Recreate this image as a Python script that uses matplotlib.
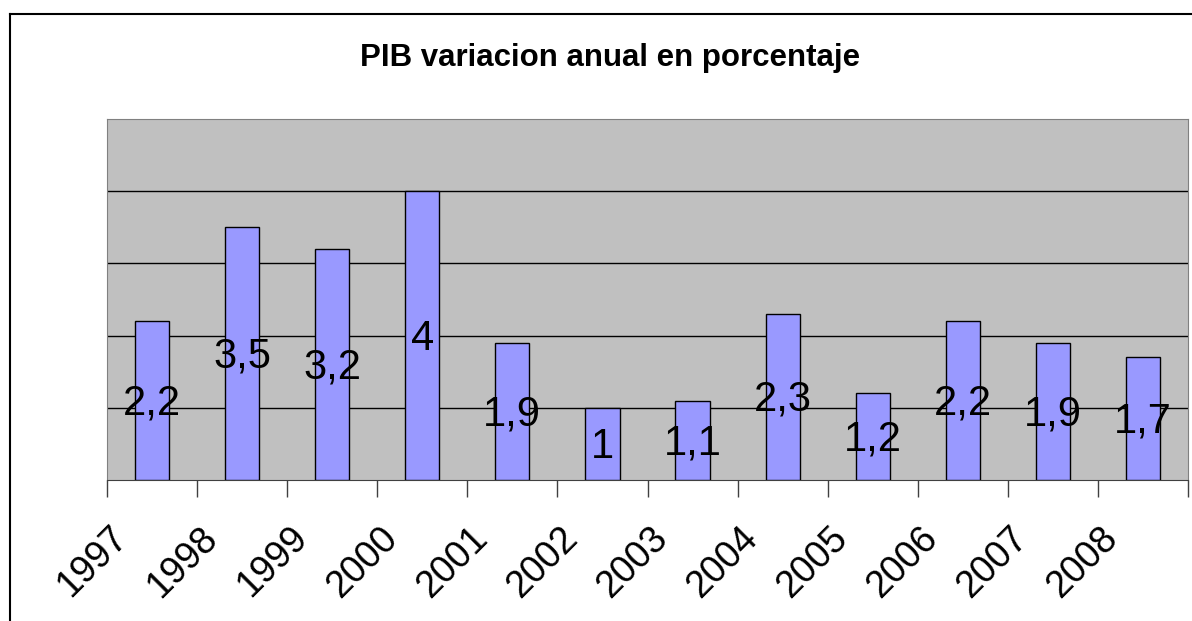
import numpy as np
import matplotlib.pyplot as plt
from matplotlib.lines import Line2D
from matplotlib.transforms import offset_copy

plt.rcParams['font.family'] = ['Liberation Sans', 'DejaVu Sans']

years = ['1997', '1998', '1999', '2000', '2001', '2002',
         '2003', '2004', '2005', '2006', '2007', '2008']
pib = [2.2, 3.5, 3.2, 4, 1.9, 1, 1.1, 2.3, 1.2, 2.2, 1.9, 1.7]
labels = [str(v).replace('.', ',') for v in pib]

fig = plt.figure(figsize=(11.92, 6.21), dpi=100)
ax = fig.add_axes([107/1192, 1 - 480/621, 1081/1192, 361/621])

x = np.arange(len(years))
ax.set_facecolor('#C0C0C0')
ax.bar(x, pib, width=0.38, color='#9999FF', edgecolor='black', linewidth=1, zorder=3)
lab_trans = offset_copy(ax.transData, fig=fig, x=0, y=-3, units='dots')
for xi, v, lab in zip(x, pib, labels):
    ax.text(xi, v / 2, lab, transform=lab_trans, ha='center', va='center',
            fontsize=30, zorder=4)

ax.set_xlim(-0.5, len(years) - 0.5)
ax.set_ylim(0, 5)
ax.set_yticks([])
for g in [1, 2, 3, 4]:
    ax.axhline(g, color='black', lw=1, zorder=2)

ax.set_xticks(np.arange(-0.5, len(years), 1))
ax.set_xticklabels([])
ax.tick_params(axis='x', length=12, width=1, color='#404040', direction='out')

# year labels, rotated like the spreadsheet original
trans = offset_copy(ax.get_xaxis_transform(), fig=fig, x=-60, y=-82, units='dots')
for xi, yr in zip(x, years):
    ax.text(xi, 0, yr, transform=trans, rotation=45, rotation_mode='anchor',
            ha='center', va='center', fontsize=27, clip_on=False)

for s in ['top', 'right', 'left']:
    ax.spines[s].set_color('#808080')
ax.spines['bottom'].set_color('#404040')

fig.text(610/1192, 1 - 58/621, 'PIB variacion anual en porcentaje',
         ha='center', va='center', fontsize=22.5, fontweight='bold')

# outer chart border (right and bottom edges fall outside the image)
fig.add_artist(Line2D([10/1192, 10/1192], [0, 1 - 14/621], transform=fig.transFigure,
                      color='black', lw=1.5))
fig.add_artist(Line2D([10/1192, 1], [1 - 14/621, 1 - 14/621], transform=fig.transFigure,
                      color='black', lw=1.5))

fig.savefig('out.png', dpi=100)
